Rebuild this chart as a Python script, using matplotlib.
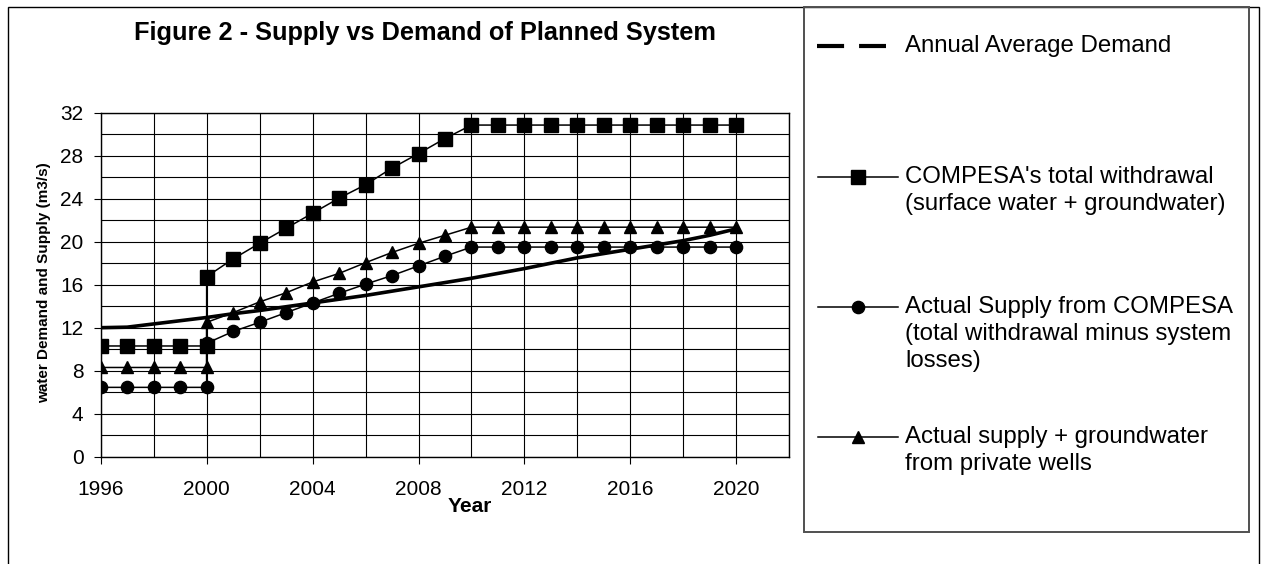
import matplotlib.pyplot as plt
from matplotlib.lines import Line2D
from matplotlib.patches import Rectangle
from matplotlib.ticker import MultipleLocator

plt.rcParams['font.family'] = ['Liberation Sans', 'DejaVu Sans']

# yearly values, m3/s
demand_years = [1996, 1997, 1998, 1999, 2000, 2001, 2002, 2003, 2004, 2005, 2006, 2007, 2008,
                2009, 2010, 2011, 2012, 2013, 2014, 2015, 2016, 2017, 2018, 2019, 2020]
demand = [12.0, 12.05, 12.35, 12.65, 12.95, 13.3, 13.6, 13.95, 14.3, 14.65, 15.0, 15.4, 15.8,
          16.2, 16.6, 17.05, 17.5, 18.0, 18.5, 18.9, 19.3, 19.7, 20.1, 20.6, 21.2]

# supply series have two points at 2000 (old system / planned system)
supply_years = [1996, 1997, 1998, 1999, 2000,
                2000, 2001, 2002, 2003, 2004, 2005, 2006, 2007, 2008, 2009, 2010,
                2011, 2012, 2013, 2014, 2015, 2016, 2017, 2018, 2019, 2020]
withdrawal = [10.3, 10.3, 10.3, 10.3, 10.3,
              16.75, 18.4, 19.85, 21.25, 22.65, 24.05, 25.3, 26.85, 28.2, 29.6, 30.85,
              30.85, 30.85, 30.85, 30.85, 30.85, 30.85, 30.85, 30.85, 30.85, 30.85]
actual_supply = [6.45, 6.45, 6.45, 6.45, 6.45,
                 10.55, 11.65, 12.5, 13.4, 14.3, 15.2, 16.05, 16.85, 17.75, 18.65, 19.5,
                 19.5, 19.5, 19.5, 19.5, 19.5, 19.5, 19.5, 19.5, 19.5, 19.5]
supply_plus_wells = [8.3, 8.3, 8.3, 8.3, 8.3,
                     12.5, 13.4, 14.4, 15.25, 16.25, 17.05, 18.05, 19.0, 19.85, 20.6, 21.35,
                     21.35, 21.35, 21.35, 21.35, 21.35, 21.35, 21.35, 21.35, 21.35, 21.35]

legend_labels = [
    ["Annual Average Demand"],
    ["COMPESA's total withdrawal", "(surface water + groundwater)"],
    ["Actual Supply from COMPESA", "(total withdrawal minus system", "losses)"],
    ["Actual supply + groundwater", "from private wells"],
]
legend_markers = [None, 's', 'o', '^']

W, H = 1264, 564
fig = plt.figure(figsize=(W / 100, H / 100), dpi=100)


def px(x, y):
    # pixel position (from top-left) to figure fraction
    return x / W, 1 - y / H


ax = fig.add_axes([100.7 / W, 1 - 456.7 / H, 688.6 / W, 344.0 / H])

ax.plot(demand_years, demand, color='black', lw=2.6, solid_capstyle='butt', zorder=3)
ax.plot(supply_years, withdrawal, color='black', lw=1.1, marker='s', ms=10.5,
        mfc='black', mec='black', zorder=4)
ax.plot(supply_years, actual_supply, color='black', lw=1.1, marker='o', ms=8.8,
        mfc='black', mec='black', zorder=4)
ax.plot(supply_years, supply_plus_wells, color='black', lw=1.1, marker='^', ms=8.8,
        mfc='black', mec='black', zorder=4)

ax.set_xlim(1996, 2022)
ax.set_ylim(0, 32)
ax.xaxis.set_minor_locator(MultipleLocator(2))
ax.yaxis.set_major_locator(MultipleLocator(4))
ax.yaxis.set_minor_locator(MultipleLocator(2))
ax.set_xticks([1996, 2000, 2004, 2008, 2012, 2016, 2020])
ax.grid(which='both', color='black', lw=0.8)
ax.set_axisbelow(True)
ax.tick_params(which='major', direction='out', length=4.8, width=0.8, labelsize=15)
ax.tick_params(axis='x', which='major', pad=12)
ax.tick_params(axis='y', which='major', pad=7.5)
ax.tick_params(which='minor', length=0)
for s in ax.spines.values():
    s.set_linewidth(1.0)

fig.text(*px(470, 507), 'Year', ha='center', va='center', fontsize=15, fontweight='bold')
fig.text(*px(44.5, 283), 'water Demand and Supply (m3/s)', rotation=90,
         ha='center', va='center', fontsize=11, fontweight='bold')
fig.text(*px(425, 33), 'Figure 2 - Supply vs Demand of Planned System',
         ha='center', va='center', fontsize=18.3, fontweight='bold')

# outer chart border and legend box
x0, y0 = px(8.3, 800)
x1, y1 = px(1259.3, 7.3)
fig.patches.append(Rectangle((x0, y0), x1 - x0, y1 - y0, transform=fig.transFigure,
                             fill=False, edgecolor='black', lw=1.0))
lx0, ly0 = px(803.5, 531.7)
lx1, ly1 = px(1248.7, 7.3)
fig.patches.append(Rectangle((lx0, ly0), lx1 - lx0, ly1 - ly0, transform=fig.transFigure,
                             fill=False, edgecolor='#505050', lw=1.4))

entry_y = [45.7, 176.7, 306.7, 436.7]
line_gap = 27
for ypos, marker, lines in zip(entry_y, legend_markers, legend_labels):
    if marker is None:
        xa, ya = px(817, ypos)
        xb, _ = px(886, ypos)
        fig.lines.append(Line2D([xa, xb], [ya, ya], transform=fig.transFigure,
                                color='black', lw=3.0, dashes=(6.5, 3.6),
                                dash_capstyle='butt'))
    else:
        xa, ya = px(818, ypos)
        xb, _ = px(898, ypos)
        xm, _ = px(858, ypos)
        fig.lines.append(Line2D([xa, xb], [ya, ya], transform=fig.transFigure,
                                color='black', lw=1.1))
        fig.lines.append(Line2D([xm], [ya], transform=fig.transFigure, marker=marker,
                                ms=10.5 if marker == 's' else 8.8, color='black', ls='none'))
    for i, t in enumerate(lines):
        fig.text(*px(905, ypos + i * line_gap), t, ha='left', va='center', fontsize=17.3)

fig.savefig('out.png', dpi=100)
